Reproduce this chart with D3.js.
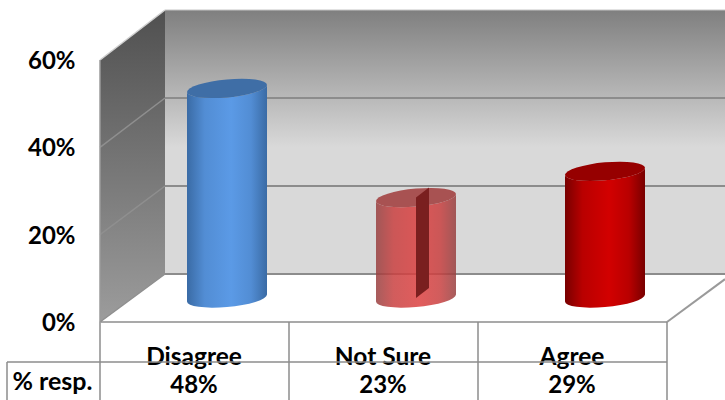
<!DOCTYPE html>
<html><head><meta charset="utf-8">
<script src="https://cdn.jsdelivr.net/npm/d3@7"></script>
<style>html,body{margin:0;padding:0;background:#fff;overflow:hidden}svg{display:block}
text{font-family:Lato,"Open Sans",sans-serif;font-weight:700;fill:#000}</style>
</head><body><svg id="c" width="725" height="400"></svg>
<script>
const categories = ["Disagree", "Not Sure", "Agree"];
const values = [48, 23, 29];
const valueLabels = ["48%", "23%", "29%"];
const yTicks = [0, 20, 40, 60];
const rowHeader = "% resp.";
const gradTop = ["#3f6ea6", "#a85252", "#960000"];
const gradEdge = ["#3a6ba5", "#974040", "#780000"];
const gradMid = ["#5b9ae6", "#dc4040", "#d20000"];
const barOpacity = [1, 0.85, 1];

const svg = d3.select("#c");
const defs = svg.append("defs");
const W = 725;
const left = 100, right = 667, base = 322, dx = 65, dy = -48;
const yFront = d3.scaleLinear().domain([0, 60]).range([base, 60]);
const yBack = d3.scaleLinear().domain([0, 60]).range([base + dy, 10]);
const x = d3.scaleBand().domain(categories).range([left, right]);
const line = d3.line();

function grad(id, x1, y1, x2, y2, stops) {
  const g = defs.append("linearGradient").attr("id", id)
    .attr("x1", x1).attr("y1", y1).attr("x2", x2).attr("y2", y2);
  stops.forEach(s => g.append("stop").attr("offset", s[0]).attr("stop-color", s[1]));
}
grad("back", 0, 0, 0, 1, [[0, "#7f7f7f"], [0.52, "#d9d9d9"], [1, "#d9d9d9"]]);
grad("side", 0, 0, 0, 1, [[0, "#505050"], [1, "#9c9c9c"]]);

// walls
svg.append("path").attr("fill", "url(#back)")
  .attr("d", line([[left + dx, yBack(60)], [W, yBack(60)], [W, yBack(0)], [left + dx, yBack(0)]]));
svg.append("path").attr("fill", "url(#side)")
  .attr("d", line([[left, yFront(60)], [left + dx, yBack(60)], [left + dx, yBack(0)], [left, yFront(0)]]));

// gridlines
yTicks.forEach(t => {
  svg.append("path").attr("fill", "none").attr("stroke", t === 60 ? "#c4c4c4" : "#8c8c8c").attr("stroke-width", t === 60 ? 1 : 2)
    .attr("d", line([[left + dx, yBack(t)], [W, yBack(t)]]));
  svg.append("path").attr("fill", "none").attr("stroke", t === 60 ? "#d0d0d0" : "#8f8f8f").attr("stroke-width", 1.5)
    .attr("d", line([[left, yFront(t)], [left + dx, yBack(t)]]));
});
svg.append("path").attr("fill", "none").attr("stroke", "#9a9a9a").attr("stroke-width", 2)
  .attr("d", line([[right, base], [W, base + (W - right) * dy / dx]]));
svg.append("path").attr("fill", "none").attr("stroke", "#9a9a9a").attr("stroke-width", 1.5)
  .attr("d", line([[left, yFront(60)], [left, base]]));

// cylinders
const rx = 40, ry = 9, barBase = 298, k = (base - yFront(60)) / 60, barShift = 32.5;
const g = svg.selectAll("g.bar").data(categories).join("g").attr("class", "bar")
  .attr("transform", d => `translate(${x(d) + x.bandwidth() / 2 + barShift},${barBase}) skewY(-5)`);
categories.forEach((c, i) => {
  const mix = d3.interpolateRgb(gradEdge[i], gradMid[i]);
  grad("cyl" + i, 0, 0, 1, 0, [[0, gradEdge[i]], [0.22, mix(0.72)], [0.55, gradMid[i]], [0.8, mix(0.72)], [1, gradEdge[i]]]);
});
g.each(function (d, i) {
  const s = d3.select(this), h = values[i] * k;
  s.append("path").attr("fill", `url(#cyl${i})`).attr("opacity", barOpacity[i])
    .attr("d", `M${-rx},${-h}L${-rx},0A${rx},${ry} 0 0 0 ${rx},0L${rx},${-h}A${rx},${ry} 0 0 1 ${-rx},${-h}Z`);
  s.append("ellipse").attr("cx", 0).attr("cy", -h).attr("rx", rx).attr("ry", ry).attr("fill", gradTop[i]);
});

// the dark slit in the middle cylinder
const mid = x("Not Sure") + x.bandwidth() / 2 + barShift, mh = values[1] * k;
svg.append("path").attr("fill", "#7a1f1f")
  .attr("d", line([[mid, barBase], [mid, barBase - mh], [mid + 13, barBase - mh - 10], [mid + 13, barBase - 10]]));

// table text below chart
const rowTop = 362;
svg.selectAll("text.cat").data(categories).join("text").attr("class", "cat")
  .attr("x", d => x(d) + x.bandwidth() / 2 - 0.5).attr("y", 365).attr("text-anchor", "middle")
  .attr("font-size", 24.5).text(d => d);
svg.selectAll("text.val").data(valueLabels).join("text").attr("class", "val")
  .attr("x", (d, i) => x(categories[i]) + x.bandwidth() / 2 - 0.5).attr("y", 393).attr("text-anchor", "middle")
  .attr("font-size", 24).text(d => d);
svg.append("text").attr("x", 52.5).attr("y", 390).attr("text-anchor", "middle").attr("font-size", 25).text(rowHeader);

// table lines
const tl = "#8c8c8c";
const rules = [
  [[left + 1, base], [right, base]],
  [[7, rowTop], [right, rowTop]],
  [[7, rowTop], [7, 400]],
  ...d3.range(4).map(i => {
    const px = i < 3 ? x(categories[i]) : right;
    return [[px, base], [px, 400]];
  })
];
rules.forEach(r => svg.append("path").attr("fill", "none").attr("stroke", tl).attr("stroke-width", 1.5).attr("d", line(r)));

// y axis labels
svg.selectAll("text.yt").data(yTicks).join("text").attr("class", "yt")
  .attr("x", 75.5).attr("y", d => yFront(d) + 9).attr("text-anchor", "end")
  .attr("font-size", 24).text(d => d + "%");
</script></body></html>
